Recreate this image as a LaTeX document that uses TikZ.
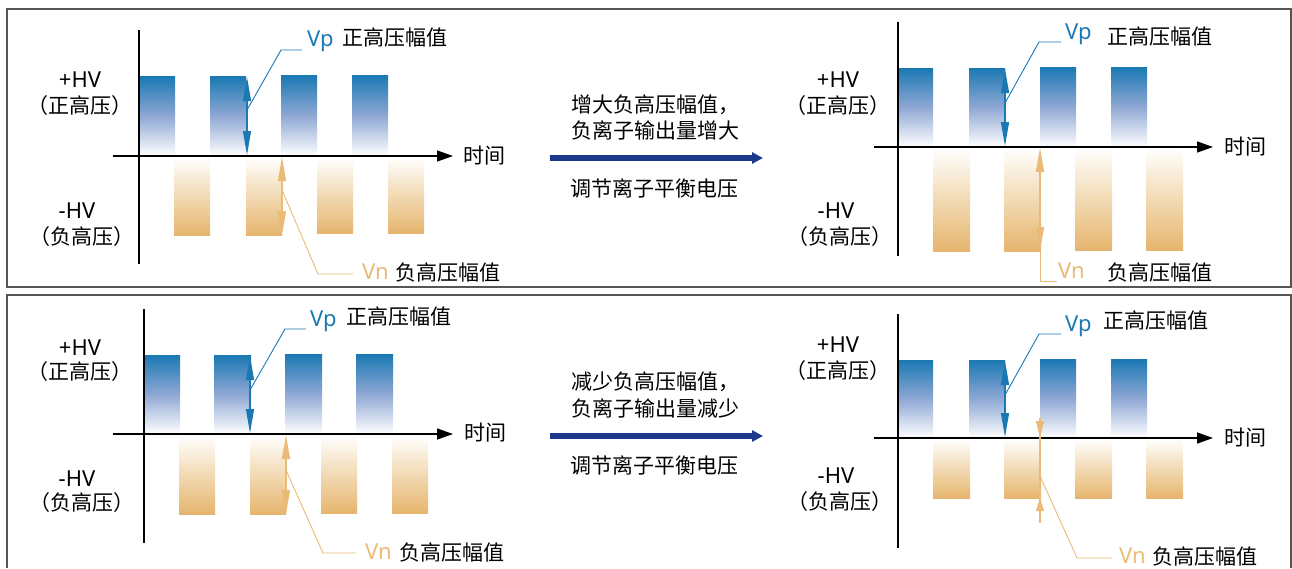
\documentclass[tikz,border=0pt]{standalone}
\usepackage{fontspec}
\setmainfont{Noto Sans CJK SC}
\newfontfamily\latinfont{Noto Sans}
\usetikzlibrary{arrows.meta}
\definecolor{vpblue}{HTML}{1A78B3}
\definecolor{vpmid}{HTML}{8FA8D4}
\definecolor{vnorange}{HTML}{E6B56E}
\definecolor{vnmid}{HTML}{F2DAB4}
\definecolor{vnline}{HTML}{E9BB76}
\definecolor{arrnavy}{HTML}{1D3A8A}
\definecolor{framegray}{HTML}{555555}

\begin{document}
\begin{tikzpicture}[x=1pt,y=1pt,font=\fontsize{21}{25}\selectfont]
\tikzstyle{every node}+=[inner sep=0pt]
\tikzstyle{frame}=[draw=framegray,line width=1.4pt]
\tikzstyle{axis}=[black,line width=1.3pt]
\tikzstyle{taxis}=[axis,-{Triangle[length=16pt,width=11pt]}]
\tikzstyle{posbar}=[top color=vpblue,bottom color=white,middle color=vpmid]
\tikzstyle{negbar}=[top color=white,bottom color=vnorange,middle color=vnmid]
\tikzstyle{vpdim}=[vpblue,line width=1.2pt,{Triangle[length=24pt,width=8pt]}-{Triangle[length=24pt,width=8pt]}]
\tikzstyle{vndim}=[vnline,line width=1.2pt,{Triangle[length=24pt,width=8pt]}-{Triangle[length=24pt,width=8pt]}]
\tikzstyle{vplead}=[vpblue,line width=0.9pt]
\tikzstyle{vnlead}=[vnline,line width=0.9pt]
\tikzstyle{bigarrow}=[arrnavy,line width=6pt,-{Triangle[length=11pt,width=11pt]}]
\tikzstyle{lat}=[font=\latinfont\fontsize{22}{26}\selectfont]
\useasboundingbox (0,0) rectangle (1292,-568);
\draw [frame] (7,-9) rectangle (1291,-287);
\draw [frame] (7,-568) -- (7,-295) -- (1291,-295) -- (1291,-568);

% top row, left
\foreach \x/\t in {139/76,210/76,281/75,352/75}
  \shade [posbar] (\x,-\t) rectangle (\x+36,-156);
\foreach \x/\b in {174/235,246/235,317/233,388/233}
  \shade [negbar] (\x,-157) rectangle (\x+36,-\b);
\draw [axis] (139,-30) -- (139,-264);
\draw [taxis] (113,-156) -- (453,-156);
\node (tl-hvp) [lat] at (80,-80) {+HV};
\node (tl-hvpcn) at (80,-106) {（正高压）};
\node (tl-hvn) [lat] at (77,-211) {-HV};
\node (tl-hvncn) at (82,-237) {（负高压）};
\node (tl-time) [anchor=west] at (463,-156) {时间};
\node (tl-vp) [lat,anchor=west,text=vpblue] at (307,-41) {Vp};
\node (tl-vpcn) [anchor=west] at (342,-37) {正高压幅值};
\node (tl-vn) [lat,anchor=west,text=vnline] at (362,-272) {Vn};
\node (tl-vncn) [anchor=west] at (395,-272) {负高压幅值};
\draw [vpdim] (247,-77) -- (247,-155);
\draw [vndim] (282,-157) -- (282,-235);
\coordinate (tl-vpk) at (281,-50);
\coordinate (tl-vnk) at (318,-274);
\draw [vplead] (247,-110) -- (tl-vpk) -- (302,-50);
\draw [vnlead] (282,-190) -- (tl-vnk) -- (353,-274);

% top row, middle
\coordinate (t-as) at (550,-158);
\coordinate (t-ae) at (763,-158);
\draw [bigarrow] (t-as) -- (t-ae);
\node (t-inc1) [anchor=west] at (571,-105) {增大负高压幅值，};
\node (t-inc2) [anchor=west] at (571,-130) {负离子输出量增大};
\node (t-adj) [anchor=west] at (570,-188) {调节离子平衡电压};

% top row, right
\foreach \x/\t in {897/68,969/68,1040/67,1111/67}
  \shade [posbar] (\x,-\t) rectangle (\x+36,-147);
\foreach \x/\b in {933/251,1004/251,1075/250,1146/250}
  \shade [negbar] (\x,-148) rectangle (\x+37,-\b);
\draw [axis] (898,-22) -- (898,-256);
\draw [taxis] (874,-147) -- (1213,-147);
\node (tr-hvp) [lat] at (838,-80) {+HV};
\node (tr-hvpcn) at (838,-106) {（正高压）};
\node (tr-hvn) [lat] at (836,-211) {-HV};
\node (tr-hvncn) at (840,-237) {（负高压）};
\node (tr-time) [anchor=west] at (1224,-147) {时间};
\node (tr-vp) [lat,anchor=west,text=vpblue] at (1065,-34) {Vp};
\node (tr-vpcn) [anchor=west] at (1107,-36) {正高压幅值};
\node (tr-vn) [lat,anchor=west,text=vnline] at (1058,-271) {Vn};
\node (tr-vncn) [anchor=west] at (1107,-272) {负高压幅值};
\draw [vpdim] (1005,-69) -- (1005,-146);
\draw [vndim] (1040,-148) -- (1040,-251);
\coordinate (tr-vpk) at (1039,-42);
\coordinate (tr-vnk) at (1040,-281);
\draw [vplead] (1005,-103) -- (tr-vpk) -- (1061,-42);
\draw [vnlead] (1040,-251) -- (tr-vnk) -- (1057,-281);

% bottom row, left
\foreach \x/\t in {143/355,214/355,285/354,356/354}
  \shade [posbar] (\x,-\t) rectangle (\x+37,-434);
\foreach \x/\b in {179/514,250/514,321/513,392/513}
  \shade [negbar] (\x,-435) rectangle (\x+36,-\b);
\draw [axis] (144,-309) -- (144,-543);
\draw [taxis] (113,-434) -- (453,-434);
\node (bl-hvp) [lat] at (80,-348) {+HV};
\node (bl-hvpcn) at (80,-372) {（正高压）};
\node (bl-hvn) [lat] at (77,-479) {-HV};
\node (bl-hvncn) at (82,-503) {（负高压）};
\node (bl-time) [anchor=west] at (464,-433) {时间};
\node (bl-vp) [lat,anchor=west,text=vpblue] at (310,-321) {Vp};
\node (bl-vpcn) [anchor=west] at (346,-316) {正高压幅值};
\node (bl-vn) [lat,anchor=west,text=vnline] at (365,-552) {Vn};
\node (bl-vncn) [anchor=west] at (399,-552) {负高压幅值};
\draw [vpdim] (250,-356) -- (250,-433);
\draw [vndim] (286,-435) -- (286,-514);
\coordinate (bl-vpk) at (285,-329);
\coordinate (bl-vnk) at (323,-553);
\draw [vplead] (250,-390) -- (bl-vpk) -- (306,-329);
\draw [vnlead] (286,-470) -- (bl-vnk) -- (356,-553);

% bottom row, middle
\coordinate (b-as) at (550,-436);
\coordinate (b-ae) at (763,-436);
\draw [bigarrow] (b-as) -- (b-ae);
\node (b-dec1) [anchor=west] at (571,-382) {减少负高压幅值，};
\node (b-dec2) [anchor=west] at (571,-408) {负离子输出量减少};
\node (b-adj) [anchor=west] at (570,-465) {调节离子平衡电压};

% bottom row, right
\foreach \x/\t in {897/360,969/360,1040/359,1111/359}
  \shade [posbar] (\x,-\t) rectangle (\x+36,-438);
\foreach \x/\b in {933/498,1004/498,1075/498,1146/498}
  \shade [negbar] (\x,-439) rectangle (\x+37,-\b);
\draw [axis] (898,-314) -- (898,-548);
\draw [taxis] (874,-438) -- (1213,-438);
\node (br-hvp) [lat] at (838,-345) {+HV};
\node (br-hvpcn) at (838,-371) {（正高压）};
\node (br-hvn) [lat] at (836,-476) {-HV};
\node (br-hvncn) at (840,-502) {（负高压）};
\node (br-time) [anchor=west] at (1224,-438) {时间};
\node (br-vp) [lat,anchor=west,text=vpblue] at (1065,-326) {Vp};
\node (br-vpcn) [anchor=west] at (1103,-320) {正高压幅值};
\node (br-vn) [lat,anchor=west,text=vnline] at (1119,-556) {Vn};
\node (br-vncn) [anchor=west] at (1152,-556) {负高压幅值};
\draw [vpdim] (1005,-361) -- (1005,-437);
\draw [vnline,line width=1.2pt] (1040,-418) -- (1040,-523);
\draw [vnline,line width=1.2pt,-{Triangle[length=17pt,width=8pt]}] (1040,-420) -- (1040,-438);
\draw [vnline,line width=1.2pt,-{Triangle[length=13pt,width=8pt]}] (1040,-521) -- (1040,-498);
\coordinate (br-vpk) at (1039,-334);
\coordinate (br-vnk) at (1077,-558);
\draw [vplead] (1005,-395) -- (br-vpk) -- (1061,-334);
\draw [vnlead] (1040,-476) -- (br-vnk) -- (1112,-558);
\end{tikzpicture}
\end{document}
